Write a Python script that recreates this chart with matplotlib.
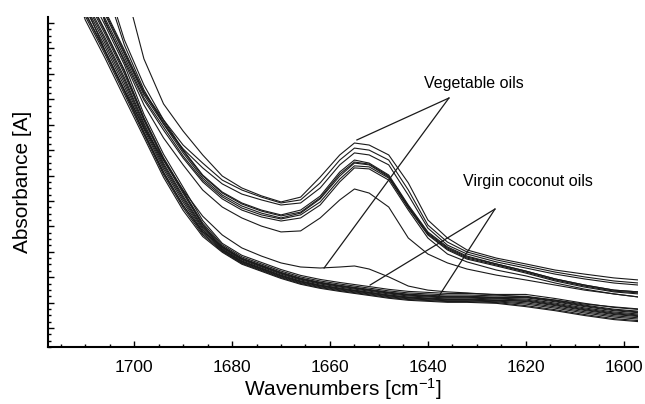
import numpy as np
import matplotlib.pyplot as plt
from matplotlib.ticker import MultipleLocator

plt.rcParams['font.family'] = ['Liberation Sans', 'DejaVu Sans']
plt.rcParams['mathtext.fontset'] = 'custom'
plt.rcParams['mathtext.rm'] = 'Liberation Sans'
plt.rcParams['mathtext.it'] = 'Liberation Sans:italic'

# -------------------------------
# DATA
# -------------------------------

wavenumbers = [1718, 1714, 1710, 1706, 1702, 1698, 1694, 1690, 1686, 1682,
               1678, 1674, 1670, 1666, 1662, 1658, 1655, 1652, 1648, 1644,
               1640, 1636, 1632, 1626, 1620, 1614, 1608, 1602, 1597]

# vegetable oils (peak near 1655 cm-1)
veg_1 = [2.60, 2.40, 2.15, 1.85, 1.554, 1.259, 1.082, 0.975, 0.881, 0.798, 0.751, 0.720, 0.696, 0.715, 0.794, 0.881, 0.928, 0.920, 0.881, 0.771, 0.625, 0.554, 0.507, 0.475, 0.452, 0.428, 0.412, 0.397, 0.389]
veg_2 = [2.30, 2.10, 1.85, 1.58, 1.334, 1.156, 1.019, 0.920, 0.849, 0.782, 0.743, 0.715, 0.692, 0.704, 0.771, 0.861, 0.908, 0.900, 0.861, 0.743, 0.605, 0.538, 0.499, 0.468, 0.444, 0.420, 0.401, 0.385, 0.377]
veg_3 = [2.28, 2.08, 1.82, 1.55, 1.314, 1.137, 1.003, 0.905, 0.830, 0.767, 0.727, 0.704, 0.684, 0.692, 0.751, 0.842, 0.889, 0.881, 0.842, 0.723, 0.593, 0.526, 0.491, 0.460, 0.436, 0.412, 0.393, 0.377, 0.369]
veg_4 = [2.20, 1.98, 1.72, 1.452, 1.294, 1.129, 1.019, 0.901, 0.802, 0.735, 0.692, 0.664, 0.645, 0.664, 0.719, 0.814, 0.861, 0.849, 0.802, 0.684, 0.578, 0.519, 0.483, 0.452, 0.424, 0.393, 0.369, 0.349, 0.342]
veg_5 = [2.18, 1.96, 1.70, 1.436, 1.279, 1.117, 1.003, 0.889, 0.790, 0.723, 0.680, 0.652, 0.633, 0.652, 0.708, 0.798, 0.849, 0.842, 0.794, 0.676, 0.570, 0.511, 0.475, 0.448, 0.420, 0.389, 0.365, 0.345, 0.338]
veg_6 = [2.16, 1.94, 1.68, 1.420, 1.267, 1.105, 0.991, 0.877, 0.782, 0.716, 0.672, 0.645, 0.629, 0.645, 0.696, 0.786, 0.838, 0.834, 0.790, 0.672, 0.566, 0.507, 0.471, 0.444, 0.416, 0.385, 0.361, 0.342, 0.334]
veg_7 = [2.14, 1.92, 1.66, 1.405, 1.255, 1.097, 0.979, 0.869, 0.775, 0.708, 0.664, 0.637, 0.621, 0.633, 0.684, 0.775, 0.830, 0.826, 0.782, 0.664, 0.554, 0.491, 0.460, 0.428, 0.405, 0.377, 0.353, 0.334, 0.322]
veg_8 = [2.19, 1.97, 1.71, 1.444, 1.286, 1.125, 1.011, 0.897, 0.798, 0.731, 0.688, 0.660, 0.641, 0.656, 0.712, 0.806, 0.853, 0.845, 0.798, 0.680, 0.574, 0.515, 0.479, 0.452, 0.424, 0.393, 0.369, 0.349, 0.342]
veg_9 = [2.12, 1.90, 1.66, 1.412, 1.247, 1.078, 0.948, 0.842, 0.743, 0.676, 0.633, 0.601, 0.578, 0.582, 0.633, 0.704, 0.747, 0.731, 0.676, 0.554, 0.491, 0.456, 0.432, 0.408, 0.389, 0.369, 0.349, 0.334, 0.322]
veg_10 = [1.95, 1.72, 1.471, 1.294, 1.137, 0.987, 0.861, 0.743, 0.640, 0.566, 0.515, 0.483, 0.456, 0.440, 0.436, 0.440, 0.444, 0.432, 0.401, 0.365, 0.349, 0.342, 0.338, 0.330, 0.322, 0.310, 0.294, 0.283, 0.275]

# virgin coconut oils (no band at 1655 cm-1)
vco_1 = [2.024, 1.787, 1.543, 1.394, 1.236, 1.041, 0.884, 0.754, 0.623, 0.533, 0.486, 0.458, 0.430, 0.407, 0.391, 0.379, 0.371, 0.363, 0.352, 0.344, 0.340, 0.336, 0.336, 0.332, 0.332, 0.316, 0.297, 0.281, 0.273]
vco_2 = [2.004, 1.767, 1.523, 1.374, 1.216, 1.027, 0.870, 0.740, 0.613, 0.527, 0.480, 0.452, 0.424, 0.401, 0.385, 0.373, 0.365, 0.357, 0.346, 0.338, 0.334, 0.330, 0.330, 0.326, 0.325, 0.309, 0.290, 0.274, 0.266]
vco_3 = [1.989, 1.752, 1.508, 1.359, 1.201, 1.017, 0.860, 0.730, 0.605, 0.522, 0.475, 0.447, 0.419, 0.396, 0.380, 0.368, 0.360, 0.352, 0.341, 0.333, 0.329, 0.325, 0.325, 0.321, 0.319, 0.303, 0.284, 0.268, 0.260]
vco_4 = [1.974, 1.737, 1.493, 1.344, 1.186, 1.006, 0.849, 0.719, 0.598, 0.518, 0.471, 0.443, 0.415, 0.392, 0.376, 0.364, 0.356, 0.348, 0.337, 0.329, 0.325, 0.321, 0.321, 0.317, 0.314, 0.298, 0.279, 0.263, 0.255]
vco_5 = [1.964, 1.727, 1.483, 1.334, 1.176, 0.999, 0.842, 0.712, 0.593, 0.515, 0.468, 0.440, 0.412, 0.389, 0.373, 0.361, 0.353, 0.345, 0.334, 0.326, 0.322, 0.318, 0.318, 0.314, 0.310, 0.294, 0.275, 0.259, 0.251]
vco_6 = [1.952, 1.715, 1.471, 1.322, 1.164, 0.991, 0.834, 0.704, 0.587, 0.511, 0.464, 0.436, 0.408, 0.385, 0.369, 0.357, 0.349, 0.341, 0.330, 0.322, 0.318, 0.314, 0.314, 0.310, 0.304, 0.288, 0.269, 0.253, 0.245]
vco_7 = [1.939, 1.702, 1.458, 1.309, 1.151, 0.982, 0.825, 0.695, 0.580, 0.507, 0.460, 0.432, 0.404, 0.381, 0.365, 0.353, 0.345, 0.337, 0.326, 0.318, 0.314, 0.310, 0.310, 0.306, 0.299, 0.283, 0.264, 0.248, 0.240]
vco_8 = [1.924, 1.687, 1.443, 1.294, 1.136, 0.971, 0.814, 0.684, 0.573, 0.504, 0.457, 0.429, 0.401, 0.378, 0.362, 0.350, 0.342, 0.334, 0.323, 0.315, 0.311, 0.307, 0.307, 0.303, 0.294, 0.278, 0.259, 0.243, 0.235]
vco_9 = [1.909, 1.672, 1.428, 1.279, 1.121, 0.961, 0.804, 0.674, 0.567, 0.501, 0.454, 0.426, 0.398, 0.375, 0.359, 0.347, 0.339, 0.331, 0.320, 0.312, 0.308, 0.304, 0.304, 0.300, 0.288, 0.272, 0.253, 0.237, 0.229]
vco_10 = [1.894, 1.657, 1.413, 1.264, 1.106, 0.950, 0.793, 0.663, 0.560, 0.498, 0.451, 0.423, 0.395, 0.372, 0.356, 0.344, 0.336, 0.328, 0.317, 0.309, 0.305, 0.301, 0.301, 0.297, 0.284, 0.268, 0.249, 0.233, 0.225]
vco_11 = [1.999, 1.762, 1.518, 1.369, 1.211, 1.023, 0.866, 0.736, 0.607, 0.509, 0.462, 0.434, 0.406, 0.383, 0.367, 0.355, 0.347, 0.339, 0.328, 0.320, 0.316, 0.312, 0.312, 0.308, 0.307, 0.291, 0.272, 0.256, 0.248]
vco_12 = [1.919, 1.682, 1.438, 1.289, 1.131, 0.968, 0.811, 0.681, 0.579, 0.520, 0.473, 0.445, 0.417, 0.394, 0.378, 0.366, 0.358, 0.350, 0.339, 0.331, 0.327, 0.323, 0.323, 0.319, 0.322, 0.306, 0.287, 0.271, 0.263]

veg_oils = [veg_1, veg_2, veg_3, veg_4, veg_5, veg_6, veg_7, veg_8, veg_9, veg_10]
coconut_oils = [vco_1, vco_2, vco_3, vco_4, vco_5, vco_6, vco_7, vco_8,
                vco_9, vco_10, vco_11, vco_12]

# leader lines: (apex, end1, end2) in (wavenumber, absorbance)
veg_label = "Vegetable oils"
veg_label_pos = (1630.6, 1.145)
veg_leaders = [(1635.7, 1.105), (1654.5, 0.940), (1661.2, 0.436)]
vco_label = "Virgin coconut oils"
vco_label_pos = (1619.6, 0.759)
vco_leaders = [(1626.3, 0.668), (1651.8, 0.369), (1638.0, 0.318)]

# -------------------------------
# PLOT
# -------------------------------

fig = plt.figure(figsize=(6.45, 4.04), dpi=100)
ax = fig.add_axes([0.0744, 0.141, 0.9146, 0.817])

for spec in coconut_oils + veg_oils:
    ax.plot(wavenumbers, spec, color='#1a1a1a', lw=0.8)

for leaders in (veg_leaders, vco_leaders):
    apex = leaders[0]
    for end in leaders[1:]:
        ax.plot([apex[0], end[0]], [apex[1], end[1]], color='#1a1a1a', lw=0.9)

ax.text(*veg_label_pos, veg_label, ha='center', va='baseline', fontsize=11.5)
ax.text(*vco_label_pos, vco_label, ha='center', va='baseline', fontsize=11.5)

ax.set_xlim(1717.6, 1597.1)
ax.set_ylim(0.125, 1.424)

ax.xaxis.set_major_locator(MultipleLocator(20))
ax.xaxis.set_minor_locator(MultipleLocator(5))
ax.yaxis.set_major_locator(MultipleLocator(0.1))
ax.yaxis.set_minor_locator(MultipleLocator(0.025))
ax.tick_params(axis='both', which='both', direction='in', width=1.0)
ax.tick_params(axis='both', which='major', length=4)
ax.tick_params(axis='both', which='minor', length=2.5)
ax.tick_params(axis='x', labelsize=12.5, pad=9)
ax.tick_params(axis='y', labelleft=False)

for side in ('top', 'right'):
    ax.spines[side].set_visible(False)
for side in ('left', 'bottom'):
    ax.spines[side].set_linewidth(1.5)

ax.set_xlabel("Wavenumbers [cm$^{-1}$]", fontsize=15, labelpad=1)
ax.set_ylabel("Absorbance [A]", fontsize=15, labelpad=8)

fig.savefig("out.png", dpi=100)
